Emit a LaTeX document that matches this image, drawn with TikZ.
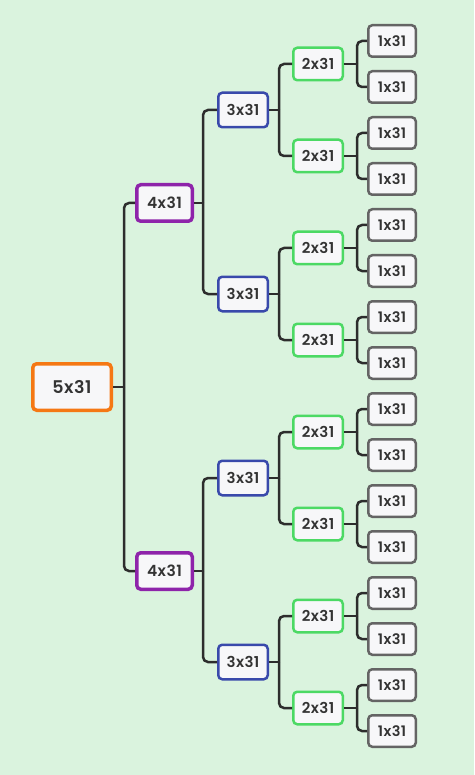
\documentclass[tikz,border=0pt]{standalone}
\usepackage{fontspec}
\setmainfont{Poppins}[BoldFont={Poppins SemiBold}, LetterSpace=3]
\usetikzlibrary{positioning}
\definecolor{bgmint}{RGB}{218,243,222}
\definecolor{rootorange}{RGB}{245,120,20}
\definecolor{lvlpurple}{RGB}{142,36,170}
\definecolor{lvlblue}{RGB}{57,73,171}
\definecolor{lvlgreen}{RGB}{76,217,100}
\definecolor{lvlgrey}{RGB}{100,100,100}
\definecolor{boxfill}{RGB}{247,247,249}
\definecolor{wirecol}{RGB}{45,45,45}

\begin{document}
\begin{tikzpicture}[
  x=1pt, y=-1pt,
  box/.style={draw, fill=boxfill, rounded corners=4pt, text=black!80, inner sep=0pt},
  rootbox/.style={box, draw=rootorange, line width=3.5pt, minimum width=78.5pt, minimum height=46.5pt, font=\bfseries\fontsize{17.5}{17.5}\selectfont},
  fourbox/.style={box, draw=lvlpurple, line width=3.5pt, minimum width=55.5pt, minimum height=36.5pt, font=\bfseries\fontsize{15.5}{15.5}\selectfont},
  threebox/.style={box, draw=lvlblue, line width=2.5pt, minimum width=49.5pt, minimum height=34.5pt, font=\bfseries\fontsize{15}{15}\selectfont},
  twobox/.style={box, draw=lvlgreen, line width=2.5pt, minimum width=49.5pt, minimum height=32.5pt, font=\bfseries\fontsize{15}{15}\selectfont},
  onebox/.style={box, draw=lvlgrey, line width=2.5pt, minimum width=47.5pt, minimum height=31.5pt, font=\bfseries\fontsize{14.5}{14.5}\selectfont},
  wire/.style={draw=wirecol, line width=2.5pt, rounded corners=5pt},
]

% background
\fill[bgmint] (0,0) rectangle (474,775);

% boxes
\node[rootbox] (n5) at (72, 387) {5x31};

\node[fourbox] (n4a) at (164.5, 203) {4x31};
\node[fourbox] (n4b) at (164.5, 571) {4x31};

\node[threebox] (n3a) at (243, 110) {3x31};
\node[threebox] (n3b) at (243, 294) {3x31};
\node[threebox] (n3c) at (243, 478) {3x31};
\node[threebox] (n3d) at (243, 662) {3x31};

\node[twobox] (n2a) at (318, 64) {2x31};
\node[twobox] (n2b) at (318, 156) {2x31};
\node[twobox] (n2c) at (318, 248) {2x31};
\node[twobox] (n2d) at (318, 340) {2x31};
\node[twobox] (n2e) at (318, 432) {2x31};
\node[twobox] (n2f) at (318, 524) {2x31};
\node[twobox] (n2g) at (318, 616) {2x31};
\node[twobox] (n2h) at (318, 708) {2x31};

\node[onebox] (n1a) at (392, 41) {1x31};
\node[onebox] (n1b) at (392, 87) {1x31};
\node[onebox] (n1c) at (392, 133) {1x31};
\node[onebox] (n1d) at (392, 179) {1x31};
\node[onebox] (n1e) at (392, 225) {1x31};
\node[onebox] (n1f) at (392, 271) {1x31};
\node[onebox] (n1g) at (392, 317) {1x31};
\node[onebox] (n1h) at (392, 363) {1x31};
\node[onebox] (n1i) at (392, 409) {1x31};
\node[onebox] (n1j) at (392, 455) {1x31};
\node[onebox] (n1k) at (392, 501) {1x31};
\node[onebox] (n1l) at (392, 547) {1x31};
\node[onebox] (n1m) at (392, 593) {1x31};
\node[onebox] (n1n) at (392, 639) {1x31};
\node[onebox] (n1o) at (392, 685) {1x31};
\node[onebox] (n1p) at (392, 731) {1x31};

% branch points
\coordinate (s5) at (124, 387);
\coordinate (s4a) at (203, 203);
\coordinate (s4b) at (203, 571);
\coordinate (s3a) at (279, 110);
\coordinate (s3b) at (279, 294);
\coordinate (s3c) at (279, 478);
\coordinate (s3d) at (279, 662);
\coordinate (s2a) at (357, 64);
\coordinate (s2b) at (357, 156);
\coordinate (s2c) at (357, 248);
\coordinate (s2d) at (357, 340);
\coordinate (s2e) at (357, 432);
\coordinate (s2f) at (357, 524);
\coordinate (s2g) at (357, 616);
\coordinate (s2h) at (357, 708);

% connectors
\draw[wire] (n5.east) -- (s5);
\draw[wire] (s5) |- (n4a.west);
\draw[wire] (s5) |- (n4b.west);

\draw[wire] (n4a.east) -- (s4a);
\draw[wire] (s4a) |- (n3a.west);
\draw[wire] (s4a) |- (n3b.west);
\draw[wire] (n4b.east) -- (s4b);
\draw[wire] (s4b) |- (n3c.west);
\draw[wire] (s4b) |- (n3d.west);

\draw[wire] (n3a.east) -- (s3a);
\draw[wire] (s3a) |- (n2a.west);
\draw[wire] (s3a) |- (n2b.west);
\draw[wire] (n3b.east) -- (s3b);
\draw[wire] (s3b) |- (n2c.west);
\draw[wire] (s3b) |- (n2d.west);
\draw[wire] (n3c.east) -- (s3c);
\draw[wire] (s3c) |- (n2e.west);
\draw[wire] (s3c) |- (n2f.west);
\draw[wire] (n3d.east) -- (s3d);
\draw[wire] (s3d) |- (n2g.west);
\draw[wire] (s3d) |- (n2h.west);

\draw[wire] (n2a.east) -- (s2a);
\draw[wire] (s2a) |- (n1a.west);
\draw[wire] (s2a) |- (n1b.west);
\draw[wire] (n2b.east) -- (s2b);
\draw[wire] (s2b) |- (n1c.west);
\draw[wire] (s2b) |- (n1d.west);
\draw[wire] (n2c.east) -- (s2c);
\draw[wire] (s2c) |- (n1e.west);
\draw[wire] (s2c) |- (n1f.west);
\draw[wire] (n2d.east) -- (s2d);
\draw[wire] (s2d) |- (n1g.west);
\draw[wire] (s2d) |- (n1h.west);
\draw[wire] (n2e.east) -- (s2e);
\draw[wire] (s2e) |- (n1i.west);
\draw[wire] (s2e) |- (n1j.west);
\draw[wire] (n2f.east) -- (s2f);
\draw[wire] (s2f) |- (n1k.west);
\draw[wire] (s2f) |- (n1l.west);
\draw[wire] (n2g.east) -- (s2g);
\draw[wire] (s2g) |- (n1m.west);
\draw[wire] (s2g) |- (n1n.west);
\draw[wire] (n2h.east) -- (s2h);
\draw[wire] (s2h) |- (n1o.west);
\draw[wire] (s2h) |- (n1p.west);

\end{tikzpicture}
\end{document}
